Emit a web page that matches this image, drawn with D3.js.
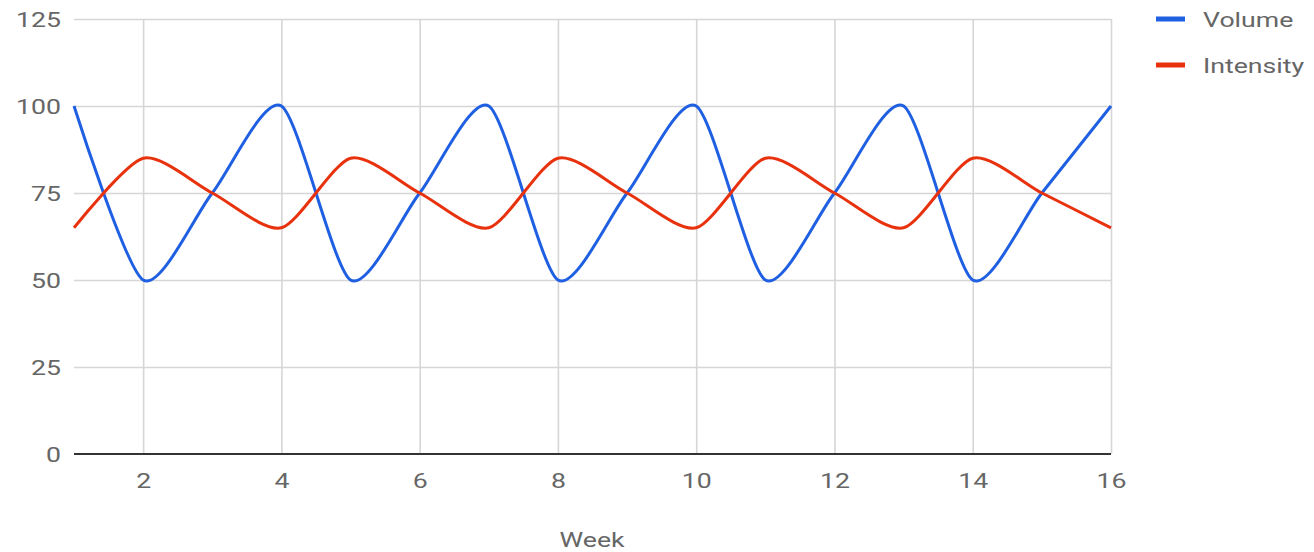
<!DOCTYPE html>
<html>
<head>
<meta charset="utf-8">
<script src="https://cdn.jsdelivr.net/npm/d3@7"></script>
<style>
  body { margin: 0; background: #fff; }
  text { font-family: Roboto, "Noto Sans", sans-serif; fill: #666; }
</style>
</head>
<body>
<div id="chart"></div>
<script>
// Data
var weeks = [1, 2, 3, 4, 5, 6, 7, 8, 9, 10, 11, 12, 13, 14, 15, 16];
var volume = [100, 50, 75, 100, 50, 75, 100, 50, 75, 100, 50, 75, 100, 50, 75, 100];
var intensity = [65, 85, 75, 65, 85, 75, 65, 85, 75, 65, 85, 75, 65, 85, 75, 65];
var xTicks = [2, 4, 6, 8, 10, 12, 14, 16];
var yTicks = [0, 25, 50, 75, 100, 125];
var seriesNames = ["Volume", "Intensity"];
var seriesColors = ["#1f5fe2", "#e8320e"];

// layout (don't use "top", it's window.top)
var W = 1314, H = 552;
var plotL = 74, plotR = 1111, plotT = 19, plotB = 454;
var stretch = 1.27; // the picture is widened, so text is too
var fontSize = 21;

var x = d3.scaleLinear().domain([1, 16]).range([plotL, plotR]);
var y = d3.scaleLinear().domain([0, 125]).range([plotB, plotT]);

var svg = d3.select('#chart').append('svg')
    .attr('width', W)
    .attr('height', H);

// grid lines
svg.append('g')
    .attr('transform', 'translate(0,' + plotB + ')')
    .call(d3.axisBottom(x).tickValues(xTicks).tickSize(-(plotB - plotT)).tickFormat(''))
    .call(g => g.select('.domain').remove())
    .call(g => g.selectAll('line').attr('stroke', '#d6d6d6').attr('stroke-width', 1.6));

svg.append('g')
    .attr('transform', 'translate(' + plotL + ',0)')
    .call(d3.axisLeft(y).tickValues(yTicks.slice(1)).tickSize(-(plotR - plotL)).tickFormat(''))
    .call(g => g.select('.domain').remove())
    .call(g => g.selectAll('line').attr('stroke', '#d6d6d6').attr('stroke-width', 1.6));

// axis labels
svg.append('g')
    .attr('transform', 'translate(' + plotL + ',0)')
    .call(d3.axisLeft(y).tickValues(yTicks).tickSize(0))
    .call(g => g.select('.domain').remove())
    .call(g => g.selectAll('text')
        .attr('x', 0).attr('dy', null)
        .attr('dominant-baseline', 'central')
        .attr('font-size', fontSize)
        .attr('transform', 'translate(-13,1) scale(' + stretch + ',1)'));

svg.append('g')
    .attr('transform', 'translate(0,' + plotB + ')')
    .call(d3.axisBottom(x).tickValues(xTicks).tickSize(0))
    .call(g => g.select('.domain').remove())
    .call(g => g.selectAll('text')
        .attr('y', 0).attr('dy', null)
        .attr('font-size', fontSize)
        .attr('transform', 'translate(0,34) scale(' + stretch + ',1)'));

// baseline
svg.append('line')
    .attr('x1', plotL).attr('x2', plotR)
    .attr('y1', y(0)).attr('y2', y(0))
    .attr('stroke', '#333')
    .attr('stroke-width', 2);

// lines
var line = d3.line()
    .x(function(d) { return x(d[0]); })
    .y(function(d) { return y(d[1]); })
    .curve(d3.curveCardinal.tension(0.25));

[volume, intensity].forEach(function(vals, i) {
    svg.append('path')
        .datum(weeks.map(function(w, j) { return [w, vals[j]]; }))
        .attr('fill', 'none')
        .attr('stroke', seriesColors[i])
        .attr('stroke-width', 3)
        .attr('d', line);
});

// axis title
svg.append('text')
    .attr('text-anchor', 'middle')
    .attr('font-size', fontSize)
    .attr('transform', 'translate(592,547) scale(' + stretch + ',1)')
    .text('Week');

// legend
var legend = svg.append('g');
seriesNames.forEach(function(name, i) {
    var ly = 19 + i * 46;
    legend.append('line')
        .attr('x1', 1156).attr('x2', 1185)
        .attr('y1', ly).attr('y2', ly)
        .attr('stroke', seriesColors[i])
        .attr('stroke-width', 5);
    legend.append('text')
        .attr('dominant-baseline', 'central')
        .attr('font-size', fontSize)
        .attr('transform', 'translate(1203,' + (ly + 1) + ') scale(' + stretch + ',1)')
        .text(name);
});
</script>
</body>
</html>
